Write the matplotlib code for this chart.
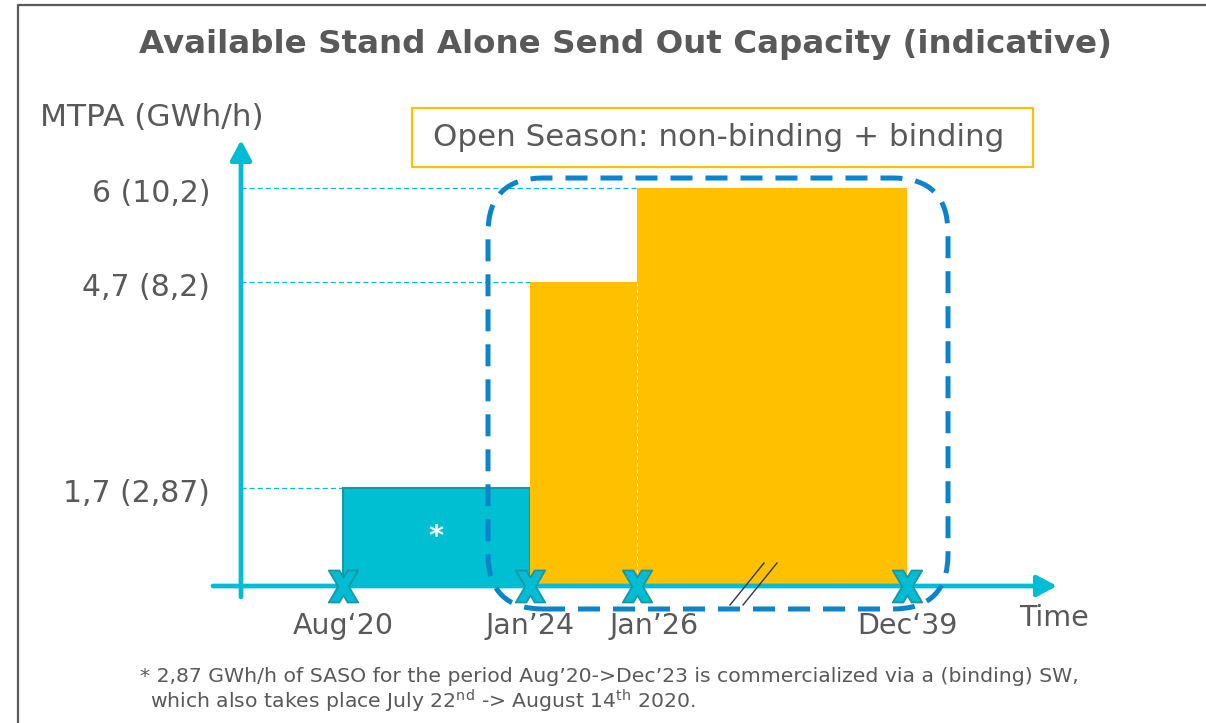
import matplotlib
matplotlib.use("Agg")

import numpy as np
import matplotlib.pyplot as plt
from matplotlib.patches import FancyBboxPatch, Rectangle
from matplotlib.lines import Line2D
from matplotlib.path import Path
from matplotlib.transforms import IdentityTransform, ScaledTranslation
from matplotlib import font_manager

W, H = 1206, 723  # output size in pixels (dpi 100)

# --- data -------------------------------------------------------------
dates = [2020 + 7 / 12, 2024.0, 2026.0, 2039 + 11 / 12]
date_labels = ["Aug‘20", "Jan’24", "Jan’26", "Dec‘39"]

levels = [1.7, 4.7, 6.0]
level_labels = ["1,7 (2,87)", "4,7 (8,2)", "6 (10,2)"]

bar_start = [2020 + 7 / 12, 2024.0, 2026.0]
bar_end = [2024.0, 2026.0, 2039 + 11 / 12]
bar_mtpa = [1.7, 4.7, 6.0]

title = "Available Stand Alone Send Out Capacity (indicative)"
box_text = "Open Season: non-binding + binding"
note1 = "* 2,87 GWh/h of SASO for the period Aug’20->Dec’23 is commercialized via a (binding) SW,"
note2 = r"which also takes place July 22$^{\mathregular{nd}}$ -> August 14$^{\mathregular{th}}$ 2020."

# --- style ------------------------------------------------------------
GREY = "#595959"
CYAN = "#00BCD4"
TEAL = "#00BFD3"
TEAL_EDGE = "#1A98A2"
YELLOW = "#FFC000"
BLUE = "#0A84CA"
bar_colors = [TEAL, YELLOW, YELLOW]

names = {f.name for f in font_manager.fontManager.ttflist}
NOTE_FONT = "Liberation Sans Narrow" if "Liberation Sans Narrow" in names else "DejaVu Sans"
NOTE_SIZE = 16 if NOTE_FONT != "DejaVu Sans" else 14.7
plt.rcParams["font.family"] = ["DejaVu Sans"]


# schematic axes: the time axis is broken after Jan'26, heights are indicative
def piecewise(xs, ys):
    xs = np.asarray(xs, float)
    ys = np.asarray(ys, float)

    def f(v):
        v = np.asarray(v, float)
        mid = np.interp(v, xs, ys)
        lo = ys[0] + (v - xs[0]) * (ys[1] - ys[0]) / (xs[1] - xs[0])
        hi = ys[-1] + (v - xs[-1]) * (ys[-1] - ys[-2]) / (xs[-1] - xs[-2])
        return np.where(v < xs[0], lo, np.where(v > xs[-1], hi, mid))
    return f


X_PX = [343, 530, 637, 907]       # where the dates sit across the slide
Y_KNOTS = [0, 1.7, 4.7, 6.0]
Y_PX = [0, 98, 304, 398]          # drawn height above the time axis
x_fwd, x_inv = piecewise(dates, X_PX), piecewise(X_PX, dates)
y_fwd, y_inv = piecewise(Y_KNOTS, Y_PX), piecewise(Y_PX, Y_KNOTS)

fig = plt.figure(figsize=(W / 100, H / 100), dpi=100)

AX_L, AX_R, AX_T, AX_B = 213, 1057, 140, 597
ax = fig.add_axes([AX_L / W, 1 - AX_B / H, (AX_R - AX_L) / W, (AX_B - AX_T) / H])
ax.set_xscale("function", functions=(x_fwd, x_inv))
ax.set_yscale("function", functions=(y_fwd, y_inv))
ax.set_xlim(float(x_inv(AX_L)), float(x_inv(AX_R)))
ax.set_ylim(float(y_inv(-(AX_B - 586))), float(y_inv(586 - AX_T)))
ax.patch.set_visible(False)
for s in ax.spines.values():
    s.set_visible(False)

origin_x = float(x_inv(241))

# ticks as labels only
ax.set_xticks(dates, date_labels)
ax.set_yticks(levels, level_labels)
ax.tick_params(length=0, labelcolor=GREY)
ax.tick_params(axis="x", pad=11, labelsize=20.5)
ax.tick_params(axis="y", pad=2, labelsize=21.5)
for lab in ax.get_yticklabels():
    lab.set_transform(lab.get_transform() + ScaledTranslation(0, -0.03, fig.dpi_scale_trans))
# Jan'26 label sits a little to the right in the original
lab = ax.get_xticklabels()[2]
lab.set_transform(lab.get_transform() + ScaledTranslation(0.17, 0, fig.dpi_scale_trans))

# guide lines to the levels
ax.hlines(levels, origin_x, bar_start, colors=CYAN, linestyles=(0, (4, 2.5)), lw=0.9, zorder=1)

# capacity blocks
ax.bar(bar_start, bar_mtpa, width=np.subtract(bar_end, bar_start), align="edge",
       color=bar_colors, edgecolor=[TEAL_EDGE, YELLOW, YELLOW], linewidth=[1.5, 0, 0], zorder=2)
ax.vlines(dates[2], 0, bar_mtpa[1], colors="white", linestyles=(0, (3, 3)), lw=0.8, zorder=2.5)

mid_x = float(x_inv((x_fwd(bar_start[0]) + x_fwd(bar_end[0])) / 2))
mid_y = float(y_inv(y_fwd(bar_mtpa[0]) / 2))
ax.text(mid_x, mid_y, "*", ha="center", va="center", color="white", fontsize=21,
        fontweight="bold", zorder=3)

# axis arrows
arrow = dict(arrowstyle="-|>,head_length=0.6,head_width=0.32", lw=3.4, color=CYAN,
             shrinkA=0, shrinkB=0, mutation_scale=20)
ax.annotate("", xy=(1.0, 0), xytext=(0.0, 0), xycoords=ax.get_yaxis_transform(),
            arrowprops=arrow, zorder=4)
ax.annotate("", xy=(origin_x, 1.0), xytext=(origin_x, 0.0), xycoords=ax.get_xaxis_transform(),
            arrowprops=arrow, zorder=4)

# milestones: a thick, upright letter-like "X"
w, h, t = 0.92, 1.0, 0.66
yn = h - 2 * h * (w - t) / (2 * w - t)
verts = [(-w, h), (-w + t, h), (0, yn), (w - t, h), (w, h), (t / 2, 0), (w, -h), (w - t, -h),
         (0, -yn), (-w + t, -h), (-w, -h), (-t / 2, 0), (-w, h)]
x_mark = Path(verts, [Path.MOVETO] + [Path.LINETO] * 11 + [Path.CLOSEPOLY])
ax.plot(dates, [0] * len(dates), ls="none", marker=x_mark, ms=23, mfc=CYAN, mec=TEAL_EDGE,
        mew=1.3, zorder=5, clip_on=False)


def fpos(px, py):
    return px / W, 1 - py / H


# axis break marks
for x0 in (730, 743):
    xs, ys = zip(fpos(x0, 605), fpos(x0 + 34, 563))
    fig.add_artist(Line2D(xs, ys, transform=fig.transFigure, color="#2E3650", lw=1.0, zorder=6))

# open season outline
fig.add_artist(FancyBboxPatch((488, H - 609), 948 - 488, 609 - 178,
                              boxstyle="round,pad=0,rounding_size=55",
                              transform=IdentityTransform(), fill=False, ec=BLUE,
                              lw=3.6, ls=(0, (4.4, 2.6)), zorder=7))

fig.add_artist(Rectangle((412, H - 167), 1033 - 412, 167 - 108, transform=IdentityTransform(),
                         fill=False, ec=YELLOW, lw=1.6, zorder=6))
fig.text(*fpos(433, 138), box_text, ha="left", va="center", fontsize=22.3, color=GREY)

# texts
fig.text(*fpos(625, 45), title, ha="center", va="center", fontsize=23.4, fontweight="bold",
         color=GREY)
fig.text(*fpos(40, 118), "MTPA (GWh/h)", ha="left", va="center", fontsize=22.5, color=GREY)
fig.text(*fpos(1054, 618), "Time", ha="center", va="center", fontsize=20.5, color=GREY)
fig.text(*fpos(140, 676), note1, ha="left", va="center", fontsize=NOTE_SIZE, color=GREY,
         family=NOTE_FONT)
fig.text(*fpos(150, 701), note2, ha="left", va="center", fontsize=NOTE_SIZE, color=GREY,
         family=NOTE_FONT)

# slide frame
fx, fy = zip(fpos(18, H), fpos(18, 5), fpos(W, 5))
fig.add_artist(Line2D(fx, fy, transform=fig.transFigure, color=GREY, lw=1.6, zorder=8))

fig.savefig("out.png", dpi=100)
